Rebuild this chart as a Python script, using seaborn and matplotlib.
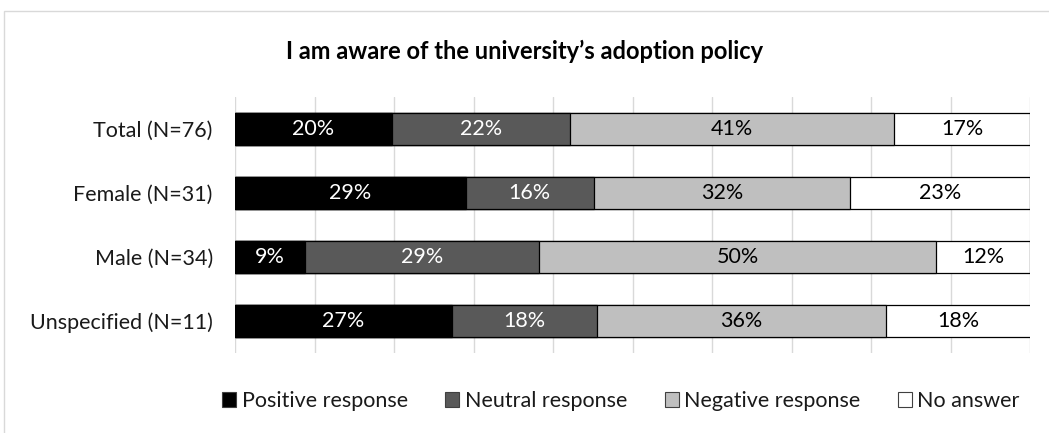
import matplotlib
matplotlib.use("Agg")
import matplotlib.pyplot as plt
from matplotlib.patches import Patch, Rectangle
import numpy as np
import pandas as pd
import seaborn as sns

# Survey groups and response shares (percent of each group)
groups = ["Total (N=76)", "Female (N=31)", "Male (N=34)", "Unspecified (N=11)"]
responses = ["Positive response", "Neutral response", "Negative response", "No answer"]
positive = [19.7, 29.0, 8.8, 27.3]
neutral = [22.4, 16.1, 29.4, 18.2]
negative = [40.8, 32.3, 50.0, 36.4]
no_answer = [17.1, 22.6, 11.8, 18.2]

colors = ["#000000", "#595959", "#BFBFBF", "#FFFFFF"]
text_colors = ["white", "white", "black", "black"]

sns.set_theme(style="white")
plt.rcParams["font.family"] = ["Lato", "DejaVu Sans"]

FS = 15.5

df = pd.DataFrame({"group": groups, "Positive response": positive,
                   "Neutral response": neutral, "Negative response": negative,
                   "No answer": no_answer})
cum = df[responses].cumsum(axis=1)

fig = plt.figure(figsize=(10.49, 4.33), dpi=100)
W, H = 1049, 433
ax = fig.add_axes([235 / W, 1 - 353 / H, (1030 - 235) / W, (353 - 97) / H])

# Outer chart border
fig.patches.append(Rectangle((4 / W, -0.1), 1.2, 1 - 11 / H + 0.1, transform=fig.transFigure,
                             fill=False, edgecolor="#D9D9D9", linewidth=1.0, zorder=0))

# Stacked bars: draw cumulative totals from the longest down so each segment shows
for i in range(len(responses) - 1, -1, -1):
    sns.barplot(x=cum[responses[i]], y=df["group"], order=groups, orient="h",
                color=colors[i], saturation=1, width=0.5, edgecolor="black",
                linewidth=0.9, ax=ax, zorder=3)

# Segment labels
for i, r in enumerate(responses):
    for j in range(len(groups)):
        v = df[r].iloc[j]
        center = cum[r].iloc[j] - v / 2
        ax.text(center, j, f"{v:.0f}%", ha="center", va="center",
                color=text_colors[i], fontsize=FS, zorder=5)

ax.set_xlim(0, 100)
ax.set_ylim(3.5, -0.5)
ax.set_xticks(np.arange(0, 101, 10))
ax.set_xticklabels([])
ax.tick_params(axis="x", length=0)
ax.tick_params(axis="y", length=0, pad=16, labelsize=FS, labelcolor="#1a1a1a")
ax.xaxis.grid(True, color="#D9D9D9", linewidth=1.0, zorder=0)
ax.set_axisbelow(True)
ax.set_xlabel("")
ax.set_ylabel("")
for s in ax.spines.values():
    s.set_visible(False)

fig.text(525 / W, 1 - 51 / H, "I am aware of the university\u2019s adoption policy",
         ha="center", va="center", fontsize=17, fontweight="bold", color="black")

handles = [Patch(facecolor=c, edgecolor="#404040", linewidth=0.8) for c in colors]
fig.legend(handles, responses, loc="center", bbox_to_anchor=(621 / W, 1 - 401 / H),
           ncol=4, frameon=False, fontsize=FS, handlelength=0.65, handleheight=0.65,
           handletextpad=0.25, columnspacing=1.75, labelcolor="#1a1a1a")

fig.savefig("out.png", dpi=100)
